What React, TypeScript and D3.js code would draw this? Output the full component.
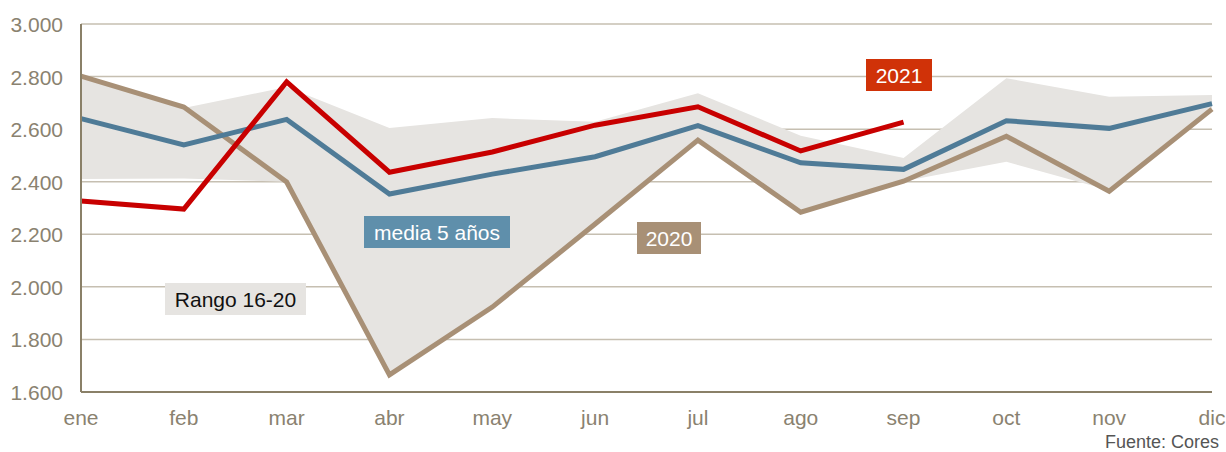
import React from 'react';
import * as d3 from 'd3';

const months = ['ene', 'feb', 'mar', 'abr', 'may', 'jun', 'jul', 'ago', 'sep', 'oct', 'nov', 'dic'];
const rangeHigh = [2805, 2680, 2760, 2604, 2642, 2628, 2737, 2575, 2490, 2794, 2723, 2730];
const rangeLow = [2410, 2412, 2400, 1665, 1923, 2239, 2558, 2284, 2402, 2476, 2368, 2676];
const serie2020 = [2802, 2684, 2399, 1665, 1923, 2239, 2558, 2284, 2402, 2573, 2364, 2676];
const media5 = [2640, 2540, 2637, 2353, 2429, 2495, 2613, 2472, 2447, 2632, 2603, 2697];
const serie2021 = [2327, 2296, 2780, 2436, 2513, 2615, 2685, 2517, 2627];
const yTicks = [1600, 1800, 2000, 2200, 2400, 2600, 2800, 3000];

const W = 1226;
const H = 452;
const left = 81;
const right = 1212;
const top = 24;
const bottom = 392;

const fmt = (v: number) => d3.format(',')(v).replace(',', '.');

export default function App() {
  const x = d3.scalePoint<string>().domain(months).range([left, right]);
  const y = d3.scaleLinear().domain([1600, 3000]).range([bottom, top]);

  const area = d3
    .area<number>()
    .x((_, i) => x(months[i]) as number)
    .y0((_, i) => y(rangeLow[i]))
    .y1((d) => y(d));

  const line = d3
    .line<number>()
    .x((_, i) => x(months[i]) as number)
    .y((d) => y(d));

  const font = 'Liberation Sans, Arial, sans-serif';
  const tickColor = '#8a8270';

  return (
    <svg
      width={W}
      height={H}
      style={{ position: 'absolute', left: 0, top: 0, background: '#fff' }}
      fontFamily={font}
    >
      {/* grid */}
      {yTicks.slice(1).map((t) => (
        <line key={t} x1={left} x2={right} y1={y(t)} y2={y(t)} stroke="#c6bfb1" strokeWidth={1.5} />
      ))}

      <path d={area(rangeHigh) || ''} fill="#e6e4e1" />

      <path d={line(serie2020) || ''} fill="none" stroke="#a89076" strokeWidth={5} />
      <path d={line(media5) || ''} fill="none" stroke="#4f7b97" strokeWidth={5} />
      <path d={line(serie2021) || ''} fill="none" stroke="#c80000" strokeWidth={5} />

      {/* axes */}
      <line x1={left} x2={left} y1={top} y2={bottom} stroke="#8a8068" strokeWidth={2} />
      <line x1={left} x2={right} y1={bottom} y2={bottom} stroke="#8a8068" strokeWidth={2} />

      {yTicks.map((t) => (
        <text key={t} x={63} y={y(t) + 8} textAnchor="end" fontSize={21} fill={tickColor}>
          {fmt(t)}
        </text>
      ))}
      {months.map((m) => (
        <text key={m} x={x(m)} y={425} textAnchor="middle" fontSize={21} fill={tickColor}>
          {m}
        </text>
      ))}

      {/* labels */}
      <rect x={866} y={59} width={66} height={32} fill="#d03208" />
      <text x={899} y={83} textAnchor="middle" fontSize={21} fill="#fff">2021</text>

      <rect x={364} y={216} width={146} height={32} fill="#5f8fab" />
      <text x={437} y={240} textAnchor="middle" fontSize={21} fill="#fff">media 5 años</text>

      <rect x={637} y={222} width={64} height={32} fill="#a89076" />
      <text x={669} y={246} textAnchor="middle" fontSize={21} fill="#fff">2020</text>

      <rect x={165} y={283} width={141} height={32} fill="#e6e4e1" />
      <text x={235.5} y={307} textAnchor="middle" fontSize={21} fill="#111">Rango 16-20</text>

      <text x={1219} y={448} textAnchor="end" fontSize={18} fill="#555">Fuente: Cores</text>
    </svg>
  );
}
